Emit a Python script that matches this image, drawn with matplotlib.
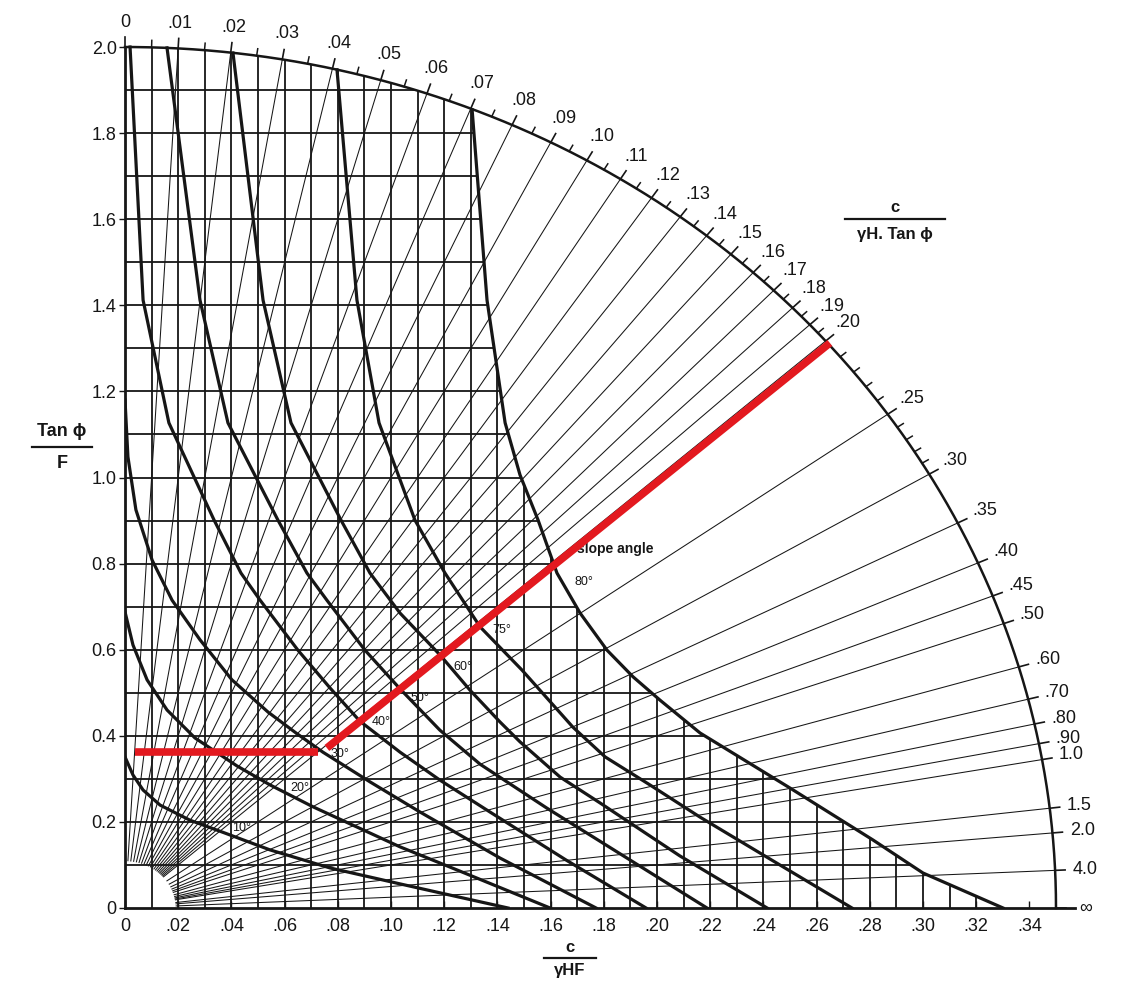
import numpy as np
import matplotlib.pyplot as plt
from matplotlib.patches import Polygon
from matplotlib.lines import Line2D

plt.rcParams['font.family'] = ['Liberation Sans', 'DejaVu Sans']

INK = '#161616'
RED = '#e3191f'

# ---- values ----
arc_x_end = 0.35   # where the outer arc meets the c/(yHF) axis
arc_y_end = 2.0    # where the outer arc meets the tan(phi)/F axis

# c / (yH tan phi) : radial lines, labelled on the arc
ratio_values = [0.0, 0.01, 0.02, 0.03, 0.04, 0.05, 0.06, 0.07, 0.08, 0.09, 0.10,
                0.11, 0.12, 0.13, 0.14, 0.15, 0.16, 0.17, 0.18, 0.19, 0.20,
                0.25, 0.30, 0.35, 0.40, 0.45, 0.50, 0.60, 0.70, 0.80, 0.90,
                1.0, 1.5, 2.0, 4.0, np.inf]
ratio_labels = ['0', '.01', '.02', '.03', '.04', '.05', '.06', '.07', '.08', '.09', '.10',
                '.11', '.12', '.13', '.14', '.15', '.16', '.17', '.18', '.19', '.20',
                '.25', '.30', '.35', '.40', '.45', '.50', '.60', '.70', '.80', '.90',
                '1.0', '1.5', '2.0', '4.0', '∞']
minor_ratios = [.005, .015, .025, .035, .045, .055, .065, .075, .085, .095,
                .105, .115, .125, .135, .145, .155, .165, .175, .185, .195,
                .21, .22, .23, .24, .26, .27, .28, .29]

grid_x = [0.01, 0.02, 0.03, 0.04, 0.05, 0.06, 0.07, 0.08, 0.09, 0.10, 0.11,
          0.12, 0.13, 0.14, 0.15, 0.16, 0.17, 0.18, 0.19, 0.20, 0.21, 0.22,
          0.23, 0.24, 0.25, 0.26, 0.27, 0.28, 0.29, 0.30, 0.31, 0.32, 0.33]
grid_y = [0.1, 0.2, 0.3, 0.4, 0.5, 0.6, 0.7, 0.8, 0.9, 1.0,
          1.1, 1.2, 1.3, 1.4, 1.5, 1.6, 1.7, 1.8, 1.9]

x_ticks = [0, .02, .04, .06, .08, .10, .12, .14, .16, .18, .20, .22, .24, .26, .28, .30, .32, .34]
x_tick_labels = ['0', '.02', '.04', '.06', '.08', '.10', '.12', '.14', '.16', '.18',
                 '.20', '.22', '.24', '.26', '.28', '.30', '.32', '.34']
y_ticks = [0, 0.2, 0.4, 0.6, 0.8, 1.0, 1.2, 1.4, 1.6, 1.8, 2.0]
y_tick_labels = ['0', '0.2', '0.4', '0.6', '0.8', '1.0', '1.2', '1.4', '1.6', '1.8', '2.0']

# slope angle curves (x = c/yHF, y = tan(phi)/F)
c80_x = [0.1305, 0.1361, 0.1429, 0.1485, 0.1553, 0.1624, 0.1711, 0.1812, 0.1910, 0.2011, 0.2162, 0.2500, 0.2812, 0.3000, 0.3301]
c80_y = [1.854, 1.412, 1.127, 1.006, 0.901, 0.778, 0.685, 0.599, 0.537, 0.483, 0.4065, 0.2787, 0.158, 0.0813, 0.0]
c75_x = [0.0797, 0.0872, 0.0955, 0.1090, 0.1203, 0.1335, 0.1492, 0.1684, 0.1805, 0.1974, 0.2162, 0.2462, 0.2733]
c75_y = [1.947, 1.412, 1.127, 0.901, 0.778, 0.653, 0.553, 0.420, 0.351, 0.2857, 0.211, 0.100, 0.0]
c60_x = [0.0406, 0.0519, 0.0624, 0.0812, 0.0921, 0.1034, 0.1184, 0.1297, 0.1410, 0.1485, 0.1636, 0.1786, 0.2086, 0.2414]
c60_y = [1.986, 1.412, 1.127, 0.901, 0.778, 0.685, 0.588, 0.506, 0.432, 0.386, 0.304, 0.244, 0.121, 0.0]
c50_x = [0.0158, 0.0282, 0.0387, 0.0575, 0.0684, 0.0759, 0.0902, 0.1034, 0.1184, 0.1335, 0.1586, 0.1887, 0.2188]
c50_y = [1.998, 1.412, 1.127, 0.901, 0.778, 0.715, 0.599, 0.509, 0.413, 0.334, 0.232, 0.116, 0.0]
c40_x = [0.0019, 0.0068, 0.0165, 0.0335, 0.0436, 0.0508, 0.0650, 0.0771, 0.0883, 0.1034, 0.1184, 0.1372, 0.1658, 0.1959]
c40_y = [2.0, 1.412, 1.127, 0.901, 0.778, 0.715, 0.599, 0.511, 0.434, 0.362, 0.297, 0.223, 0.1115, 0.0]
c30_x = [0.0, 0.0011, 0.0041, 0.0102, 0.0177, 0.0282, 0.0402, 0.0538, 0.0643, 0.0744, 0.0921, 0.1109, 0.1410, 0.1771]
c30_y = [1.180, 1.048, 0.925, 0.808, 0.715, 0.623, 0.530, 0.455, 0.4065, 0.362, 0.293, 0.223, 0.116, 0.0]
c20_x = [0.0, 0.0030, 0.0083, 0.0158, 0.0263, 0.0421, 0.0545, 0.0707, 0.1034, 0.1222, 0.1598]
c20_y = [0.688, 0.611, 0.530, 0.460, 0.395, 0.330, 0.286, 0.235, 0.142, 0.095, 0.0]
c10_x = [0.0, 0.0030, 0.0068, 0.0132, 0.0244, 0.0376, 0.0545, 0.0771, 0.1034, 0.1222, 0.1440]
c10_y = [0.351, 0.309, 0.274, 0.239, 0.204, 0.174, 0.135, 0.093, 0.056, 0.030, 0.0]

curves = [(c80_x, c80_y), (c75_x, c75_y), (c60_x, c60_y), (c50_x, c50_y),
          (c40_x, c40_y), (c30_x, c30_y), (c20_x, c20_y), (c10_x, c10_y)]
slope_labels = ['80°', '75°', '60°', '50°', '40°', '30°', '20°', '10°']
slope_label_x = [0.1726, 0.1417, 0.1271, 0.1109, 0.0962, 0.0808, 0.0658, 0.0440]
slope_label_y = [0.757, 0.646, 0.560, 0.488, 0.432, 0.358, 0.279, 0.186]

# worked example (red)
red_h_x = [0.0038, 0.0726]
red_h_y = [0.362, 0.362]
red_d_x = [0.0759, 0.2650]
red_d_y = [0.3717, 1.3124]


def arc_point(r):
    if np.isinf(r):
        return arc_x_end, 0.0
    y = 1.0 / np.sqrt((r / arc_x_end) ** 2 + 1.0 / arc_y_end ** 2)
    return r * y, y


fig = plt.figure(figsize=(11.35, 9.83), dpi=100)
ax = fig.add_axes([0.11013, 0.07630, 0.84370, 0.88901])
ax.set_xlim(0, 0.36)
ax.set_ylim(0, 2.03)
for s in ax.spines.values():
    s.set_visible(False)

ax.set_xticks(x_ticks)
ax.set_xticklabels(x_tick_labels, fontsize=13)
ax.set_yticks(y_ticks)
ax.set_yticklabels(y_tick_labels, fontsize=13)
ax.tick_params(axis='x', direction='in', length=5, width=1, pad=7, colors=INK)
ax.tick_params(axis='y', direction='out', length=4, width=1, pad=2, colors=INK)

# region inside the 80 deg curve holds the square grid
arc_xs = np.linspace(0, c80_x[0], 60)
arc_ys = arc_y_end * np.sqrt(1 - (arc_xs / arc_x_end) ** 2)
verts = [(0, 0)] + list(zip(arc_xs, arc_ys)) + list(zip(c80_x, c80_y))
clip = Polygon(verts, closed=True, transform=ax.transData)

vl = ax.vlines(grid_x, 0, arc_y_end, colors=INK, linewidth=1.3, zorder=2)
vl.set_clip_path(clip)
hl = ax.hlines(grid_y, 0, arc_x_end, colors=INK, linewidth=1.3, zorder=2)
hl.set_clip_path(clip)

# radial lines
start = 0.055
for r in ratio_values:
    if r == 0 or np.isinf(r):
        continue
    px, py = arc_point(r)
    ax.plot([px * start, px], [py * start, py], color=INK, lw=0.75, zorder=3)

# outer arc
th = np.linspace(0, np.pi / 2, 300)
ax.plot(arc_x_end * np.cos(th), arc_y_end * np.sin(th), color=INK, lw=1.8,
        zorder=4, clip_on=False)

# axes lines
ax.plot([0, 0], [0, arc_y_end], color=INK, lw=2.0, zorder=4, clip_on=False)
ax.plot([0, 0.357], [0, 0], color=INK, lw=2.0, zorder=4, clip_on=False)

# slope angle curves
for cx, cy in curves:
    ax.plot(cx, cy, color=INK, lw=2.3, zorder=5, solid_joinstyle='round')

for lab, lx, ly in zip(slope_labels, slope_label_x, slope_label_y):
    ax.text(lx, ly, lab, fontsize=9, color=INK, ha='center', va='center', zorder=6)
ax.text(0.1700, 0.834, 'slope angle', fontsize=10, fontweight='bold', color=INK,
        ha='left', va='center', zorder=6)

# ticks and labels on the arc
fig.canvas.draw()
T = ax.transData
Ti = T.inverted()
O = T.transform((0, 0))


def radial_dir(r, pd):
    if np.isinf(r):
        return np.array([1.0, 0.0])
    d = pd - O
    return d / np.hypot(*d)


for r, lab in zip(ratio_values, ratio_labels):
    p = arc_point(r)
    pd = T.transform(p)
    u = radial_dir(r, pd)
    e = Ti.transform(pd + u * 10)
    ax.plot([p[0], e[0]], [p[1], e[1]], color=INK, lw=1.2, clip_on=False, zorder=4)
    off = 25 + 5 * abs(u[0])
    q = Ti.transform(pd + u * off)
    ax.text(q[0], q[1], lab, fontsize=13, color=INK, ha='center', va='center',
            clip_on=False)

for r in minor_ratios:
    p = arc_point(r)
    pd = T.transform(p)
    u = radial_dir(r, pd)
    e = Ti.transform(pd + u * 7)
    ax.plot([p[0], e[0]], [p[1], e[1]], color=INK, lw=1.1, clip_on=False, zorder=4)

# worked example
ax.plot(red_h_x, red_h_y, color=RED, lw=5.5, solid_capstyle='butt', zorder=10)
ax.plot(red_d_x, red_d_y, color=RED, lw=5.5, solid_capstyle='butt', zorder=10)

# axis titles written as fractions
W, H = 1135.0, 983.0


def frac(cx, top_y, line_y, bot_y, half_w, num, den, size, weight='normal'):
    fig.text(cx / W, 1 - top_y / H, num, fontsize=size, ha='center', va='center',
             color=INK, fontweight=weight)
    fig.add_artist(Line2D([(cx - half_w) / W, (cx + half_w) / W],
                          [1 - line_y / H, 1 - line_y / H],
                          transform=fig.transFigure, color=INK, lw=1.6))
    fig.text(cx / W, 1 - bot_y / H, den, fontsize=size, ha='center', va='center',
             color=INK, fontweight=weight)


frac(62, 432, 447, 463, 30, 'Tan ϕ', 'F', 13, 'bold')
frac(570, 947, 958, 971, 26, 'c', 'γHF', 12, 'bold')
frac(895, 207, 219, 234, 50, 'c', 'γH. Tan ϕ', 12, 'bold')

fig.savefig('out.png', dpi=100, facecolor='white')
